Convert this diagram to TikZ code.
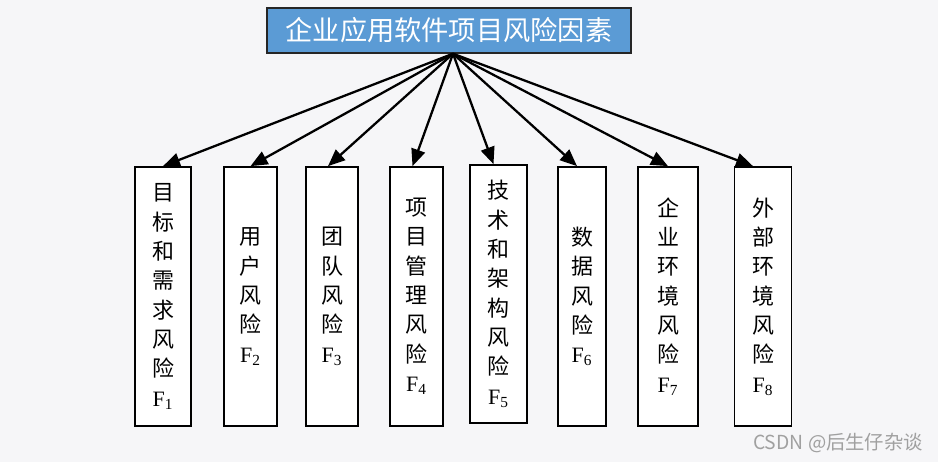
\documentclass[tikz,border=0pt]{standalone}
\usepackage{fontspec}
\setmainfont{Liberation Serif}
\newfontfamily\cjk{Noto Sans CJK SC}
\usetikzlibrary{arrows.meta,positioning}
\definecolor{rkblue}{RGB}{91,155,213}
\definecolor{rkbg}{RGB}{246,246,248}
\definecolor{rkgray}{RGB}{160,160,160}
\newcommand{\riskF}[1]{{\rmfamily F\textsubscript{#1}}}
\tikzstyle{riskarrow} = [line width=1.3pt,-{Triangle[length=0.34cm,width=0.28cm]},color=black]
\tikzstyle{riskbox} = [rectangle, draw=black, fill=white, line width=1pt, minimum height=5.18cm, inner sep=0pt, align=center, font=\cjk\fontsize{12.5}{16.7}\selectfont]
\tikzstyle{rootbox} = [rectangle, draw=black!85, fill=rkblue, line width=0.8pt, minimum width=7.28cm, minimum height=0.9cm, text=white, font=\cjk\fontsize{15.5}{18}\selectfont]

\begin{document}
\begin{tikzpicture}[x=0.02cm, y=-0.02cm]
% Canvas
\useasboundingbox (0,0) rectangle (938,462);
\fill[rkbg] (0,0) rectangle (938,462);

% Root
\node (root) [rootbox] at (449,30.5) {企业应用软件项目风险因素};
\coordinate (apex) at ([xshift=0.08cm]root.south);

% Risk factors
\node (goal) [riskbox, minimum width=1.12cm] at (163,296.5) {目\\标\\和\\需\\求\\风\\险\\\riskF{1}};
\node (user) [riskbox, minimum width=1.06cm] at (250.5,296.5) {用\\户\\风\\险\\\riskF{2}};
\node (team) [riskbox, minimum width=1.04cm] at (332,296.5) {团\\队\\风\\险\\\riskF{3}};
\node (mgmt) [riskbox, minimum width=1.06cm] at (416.5,296.5) {项\\目\\管\\理\\风\\险\\\riskF{4}};
\node (tech) [riskbox, minimum width=1.14cm, minimum height=5.16cm] at (498.5,294) {技\\术\\和\\架\\构\\风\\险\\\riskF{5}};
\node (data) [riskbox, minimum width=0.96cm] at (582,296.5) {数\\据\\风\\险\\\riskF{6}};
\node (inner) [riskbox, minimum width=1.2cm] at (668,296.5) {企\\业\\环\\境\\风\\险\\\riskF{7}};
\node (outer) [riskbox, minimum width=1.14cm] at (763,296.5) {外\\部\\环\\境\\风\\险\\\riskF{8}};

% Arrows
\draw[riskarrow] (apex) -- (goal.north);
\draw[riskarrow] (apex) -- (user.north);
\draw[riskarrow] (apex) -- ([xshift=-0.08cm]team.north);
\draw[riskarrow] (apex) -- ([xshift=-0.08cm]mgmt.north);
\draw[riskarrow] (apex) -- ([xshift=-0.1cm]tech.north);
\draw[riskarrow] (apex) -- ([xshift=-0.1cm]data.north);
\draw[riskarrow] (apex) -- (inner.north);
\draw[riskarrow] (apex) -- ([xshift=-0.2cm]outer.north);

% Watermark
\node (mark) [text=rkgray, font=\cjk\fontsize{11}{12}\selectfont] at (838,443) {CSDN @后生仔杂谈};
\end{tikzpicture}
\end{document}
